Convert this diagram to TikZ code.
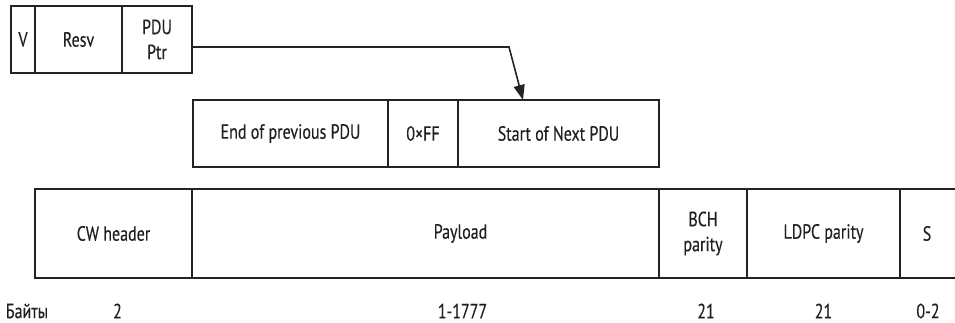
\documentclass[tikz,border=0pt]{standalone}
\usepackage{fontspec}
\setmainfont{PT Sans}[FakeStretch=0.78, FakeBold=0.3]
\usetikzlibrary{positioning,arrows.meta,calc}
\definecolor{linecol}{RGB}{35,35,35}
\definecolor{textcol}{RGB}{35,31,32}

\begin{document}
\begin{tikzpicture}[
    x=1pt, y=-1pt,
    font=\fontsize{20.5}{25}\selectfont, text=textcol,
    cell/.style={rectangle, draw=linecol, line width=1.6pt, inner sep=0pt, outer sep=0pt, align=center},
    toprow/.style={cell, minimum height=67pt},
    midrow/.style={cell, minimum height=67pt},
    botrow/.style={cell, minimum height=89pt},
    num/.style={inner sep=0pt},
    arrow/.style={line width=1.6pt, draw=linecol, -{Triangle[length=15pt,width=11pt]}}
]
\useasboundingbox (0,0) rectangle (955,323);

% Header fields
\node[toprow, minimum width=24pt, anchor=north west] (v) at (11,6) {V};
\node[toprow, minimum width=87pt, right=0pt of v] (resv) {Resv};
\node[toprow, minimum width=70pt, right=0pt of resv] (ptr) {PDU\\Ptr};

% Payload contents
\node[midrow, minimum width=195pt, anchor=north west] (endprev) at (193,100) {End of previous PDU};
\node[midrow, minimum width=70pt, right=0pt of endprev] (ff) {0×FF};
\node[midrow, minimum width=201pt, right=0pt of ff] (start) {Start of Next PDU};

% Codeword
\node[botrow, minimum width=157pt, anchor=north west] (cw) at (35,189) {CW header};
\node[botrow, minimum width=467pt, right=0pt of cw] (payload) {};
\node[num] (payloadtxt) at ($(payload.center)+(35,0)$) {Payload};
\node[botrow, minimum width=88pt, right=0pt of payload] (bch) {BCH\\parity};
\node[botrow, minimum width=153pt, right=0pt of bch] (ldpc) {LDPC parity};
\node[cell, draw=none, minimum height=89pt, minimum width=60pt, right=0pt of ldpc] (s) {\hspace*{-6pt}S};
\draw[line width=1.6pt, linecol] (s.north west) -- (s.north east);
\draw[line width=1.6pt, linecol] (s.south west) -- (s.south east);

% Byte counts
\node[num] (bytes) at (27,311) {Байты};
\node[num] (n2) at ($(cw.south)+(4,33)$) {2};
\node[num] (n1777) at ($(payload.south)+(37,33)$) {1-1777};
\node[num] (n21a) at ($(bch.south)+(3,33)$) {21};
\node[num] (n21b) at ($(ldpc.south)+(0,33)$) {21};
\node[num] (n02) at ($(s.south)+(-2,33)$) {0-2};

% Pointer
\coordinate (bend) at (509,47);
\coordinate (tip) at ($(start.north west)+(65,0)$);
\draw[arrow] ([yshift=-7.5pt]ptr.east) -- ([yshift=-7.5pt]ptr.east -| bend) -- (tip);

\end{tikzpicture}
\end{document}
